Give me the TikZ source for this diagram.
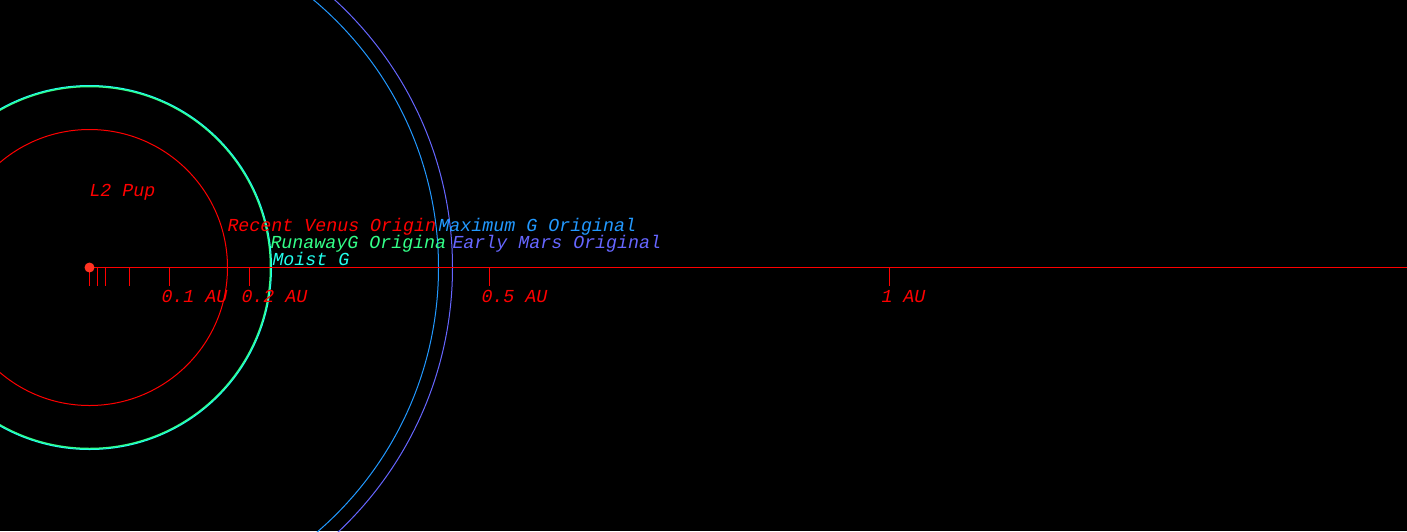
\documentclass[tikz,border=0pt]{standalone}
\usepackage{fontspec}
\setmonofont{Liberation Mono}
\usetikzlibrary{positioning}
\definecolor{venus}{HTML}{FF0000}
\definecolor{runaway}{HTML}{33FF88}
\definecolor{moist}{HTML}{22FFEE}
\definecolor{maxg}{HTML}{2299FF}
\definecolor{mars}{HTML}{6666FF}
\definecolor{sunc}{HTML}{FF3322}
\tikzstyle{lbl} = [anchor=base west, inner sep=0pt,
    font=\ttfamily\itshape\fontsize{18.3}{18.3}\selectfont]
\tikzstyle{zone} = [line width=1pt]
\tikzstyle{sun} = [circle, fill=sunc, minimum size=10pt, inner sep=0pt]

\begin{document}
\begin{tikzpicture}[x=1pt,y=-1pt,line width=1pt]
  \useasboundingbox (0,0) rectangle (1407,531);
  \fill[black] (0,0) rectangle (1407,531);
  \clip (0,0) rectangle (1407,531);

  \coordinate (c) at (89.5,267.5);
  \coordinate (edge) at (1407,267.5);

  % habitable zone limits
  \draw[zone,venus]   (c) circle (138pt);
  \draw[zone,runaway,line width=1.5pt] (c) circle (181pt);
  \draw[zone,moist]   (c) circle (182pt);
  \draw[zone,maxg]    (c) circle (349pt);
  \draw[zone,mars]    (c) circle (363pt);

  % distance axis
  \draw[venus] (c) -- (edge);
  \foreach \d/\n in {0/0, 8/1, 16/2, 40/5, 80/10, 160/20, 400/50, 800/100}
    \draw[venus] (89.5+\d,267.5) coordinate (tick\n) -- ++(0,18);

  \node[sun] (pup) at (c) {};

  \node[lbl,venus] (name) at (89,196) {L2 Pup};
  \node[lbl,venus] (a01) at (161,302) {0.1 AU};
  \node[lbl,venus] (a02) at (241,302) {0.2 AU};
  \node[lbl,venus] (a05) at (481,302) {0.5 AU};
  \node[lbl,venus] (a1)  at (881,302) {1 AU};

  \node[lbl,venus]   (rv) at (227,231) {Recent Venus Origin};
  \node[lbl,runaway] (rg) at (270,248) {RunawayG Origina};
  \node[lbl,moist]   (mg) at (272,265) {Moist G};
  \node[lbl,maxg]    (xg) at (438,231) {Maximum G Original};
  \node[lbl,mars]    (em) at (452,248) {Early Mars Original};
\end{tikzpicture}
\end{document}
